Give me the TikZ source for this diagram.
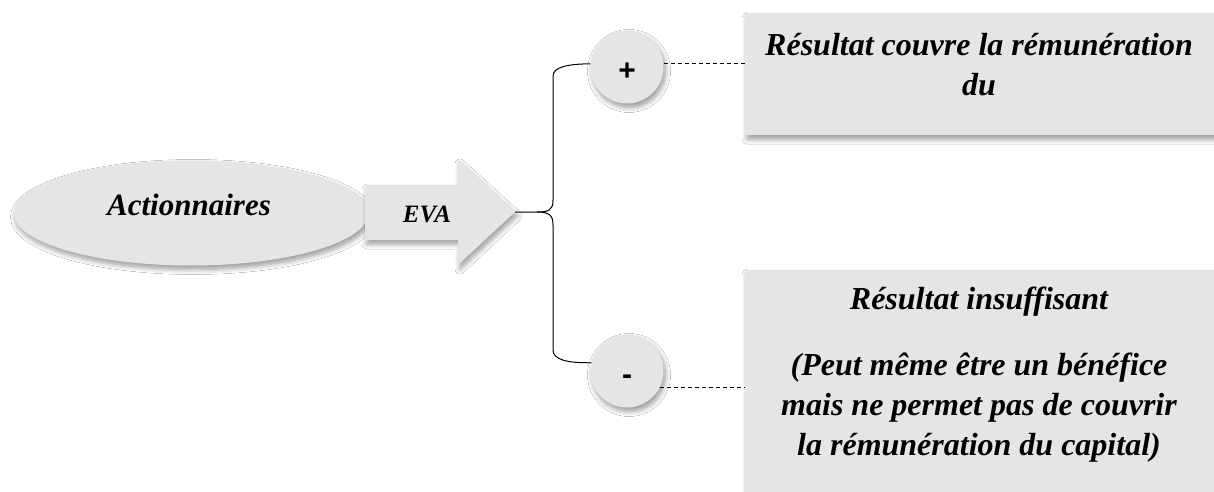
\documentclass[tikz,border=0pt]{standalone}
\usepackage{fontspec}
\setmainfont{Liberation Serif}
\setsansfont{Liberation Sans}
\usetikzlibrary{shapes.geometric,shadows.blur}
\definecolor{panel}{HTML}{E5E5E5}
\tikzset{
  soft/.style={blur shadow={shadow xshift=2pt,shadow yshift=-4pt,shadow blur steps=8,shadow blur radius=5pt,shadow opacity=40}},
  blob/.style={fill=panel,draw=none,soft},
  sign/.style={circle,blob,minimum size=73pt,inner sep=0pt},
  signtxt/.style={font=\sffamily\bfseries\fontsize{30}{30}\selectfont},
  txt/.style={font=\bfseries\itshape\fontsize{32}{40}\selectfont,align=center},
  link/.style={line width=1pt},
  dash line/.style={dashed,line width=0.7pt,dash pattern=on 4pt off 3pt}
}
\begin{document}
\begin{tikzpicture}[x=1pt,y=-1pt]
\useasboundingbox (0,0) rectangle (1214,492);
\fill[white] (0,0) rectangle (1214,492);

% shareholders ellipse
\node[ellipse,blob,minimum width=355pt,minimum height=105pt] (act) at (191,213) {};
\node[txt,font=\bfseries\itshape\fontsize{31}{34}\selectfont] (acttxt) at (189,205) {Actionnaires};

% EVA arrow
\path[blob] (365,185) -- (458,185) -- (458,160) -- (515,212) -- (458,265) -- (458,240) -- (365,240) -- cycle;
\coordinate (tip) at (515,212);
\node[txt,font=\bfseries\itshape\fontsize{25}{28}\selectfont] (eva) at (427,214) {EVA};

% sign circles
\node[sign] (plus) at (627,67) {};
\node[signtxt] (plustxt) at (627,72) {+};
\node[sign] (minus) at (627,371) {};
\node[signtxt] (minustxt) at (627,380) {-};

% result panels
\node[blob,anchor=north west,minimum width=470pt,minimum height=122pt,inner sep=0pt] (topbox) at (745,13) {};
\node[blob,anchor=north west,minimum width=470pt,minimum height=260pt,inner sep=0pt] (lowbox) at (745,270) {};

\node[txt] (t1) at (979,45) {Résultat couvre la rémunération};
\node[txt] (t2) at (979,85) {du};
\node[txt] (b1) at (979,302) {Résultat insuffisant};
\node[txt] (b2) at (979,408) {(Peut même être un bénéfice\\mais ne permet pas de couvrir\\la rémunération du capital)};

% brace
\draw[link] (tip) -- (537,212) .. controls (549,212) and (553,210) .. (553,200)
  -- (553,76) .. controls (553,67) and (568,64) .. (plus.175);
\draw[link] (537,212) .. controls (549,212) and (553,215) .. (553,225)
  -- (553,350) .. controls (553,360) and (568,363) .. (minus.167);

% dashed leaders
\draw[dash line] (plus.5) -- (plus.5 -| topbox.west);
\draw[dash line] (minus.-27) -- (minus.-27 -| lowbox.west);
\end{tikzpicture}
\end{document}
